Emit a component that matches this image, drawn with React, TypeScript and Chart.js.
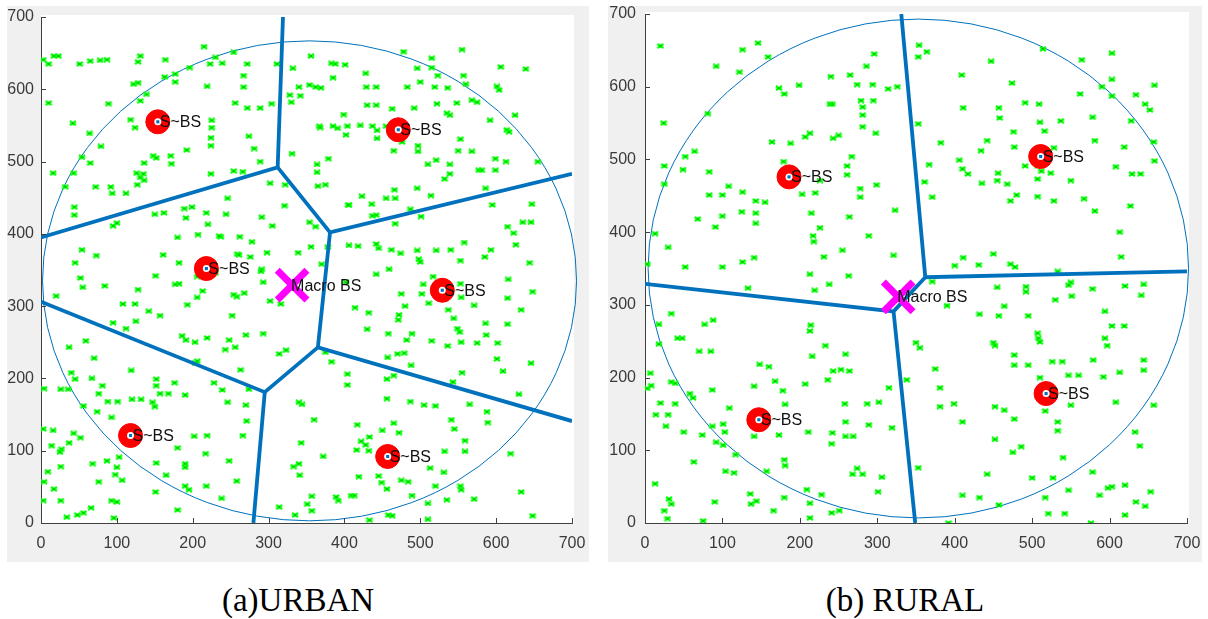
import React, { useEffect, useRef } from 'react';
import { Chart, registerables } from 'chart.js';
Chart.register(...registerables);

type Pt = [number, number];

const AXIS_TICKS = [0, 100, 200, 300, 400, 500, 600, 700];
const SMALL_LABEL = 'S~BS';
const MACRO_LABEL = 'Macro BS';

// ---------- URBAN ----------
const urbanUsers: Pt[] = [
  [215,659],[555,655],[478,652],[254,651],
  [17,646],[23,646],[131,646],[356,646],[3,641],[164,641],[230,644],[128,638],[515,643],[10,635],[51,635],[65,639],[78,640],[87,641],[223,635],[239,636],[272,635],[311,635],[332,629],[383,636],[388,635],[401,634],[606,631],[639,628],[196,630],[496,629],[515,630],
  [163,617],[177,621],[177,610],[267,619],[385,616],[428,622],[523,619],[557,619],[560,607],[267,603],[219,604],[122,607],[128,609],[354,606],[362,603],[369,602],[340,603],[429,603],[442,603],[601,604],[604,599],[483,603],[519,603],[500,610],[536,602],
  [139,593],[10,581],[89,580],[131,584],[256,581],[272,574],[289,574],[304,580],[328,592],[330,582],[342,591],[548,581],[575,582],[568,585],[522,580],[463,573],[430,578],[442,578],[492,574],[399,565],[535,567],[539,564],[592,557],[625,564],[614,544],[617,541],[118,558],[124,547],[225,557],[225,547],
  [367,549],[385,549],[404,549],[421,550],[437,549],[455,549],
  [42,553],[64,539],[79,521],[54,506],[65,498],[43,484],[16,484],[72,465],[92,465],[94,456],[112,456],[127,468],[131,478],[135,483],[126,484],[136,498],[148,508],[152,505],[171,508],[172,497],[192,516],[224,522],[224,533],[224,483],[274,535],[281,518],[289,500],[266,486],[302,470],[322,468],[331,511],[379,504],[364,496],[364,485],[375,468],[365,466],[368,547],[391,546],[402,537],[443,543],[443,532],[476,527],[465,515],[497,514],[497,522],[510,496],[521,502],[539,496],[539,483],[532,476],[550,515],[568,514],[577,488],[581,488],[599,504],[599,488],[613,500],[655,500],[586,463],[496,463],[514,453],[466,461],[467,449],[455,449],[436,441],[423,452],[406,440],[487,434],[553,531],
  [54,378],[73,370],[45,360],[52,339],[55,326],[84,328],[20,314],[108,303],[124,303],[142,293],[157,287],[95,277],[125,279],[112,269],[37,243],[59,252],[70,228],[40,208],[36,185],[26,185],[4,186],[45,199],[67,200],[81,190],[76,179],[88,168],[101,168],[74,154],[56,162],[120,171],[119,211],[132,171],[147,167],[150,161],[152,199],[152,190],[157,179],[168,179],[176,194],[190,177],[93,146],[43,124],[16,128],[3,130],[14,107],[37,111],[27,102],[25,98],[52,118],[26,78],[68,82],[87,86],[103,91],[100,77],[107,59],[98,67],[76,57],[17,47],[4,57],[3,31],[9,71],[26,31],[66,21],[56,14],[48,11],[34,8],[96,7],[93,31],[100,29],[151,43],[165,66],[152,83],[180,104],[190,82],[190,77],[190,51],[195,46],[180,18],[218,51],[217,96],[219,121],[202,120],[238,34],[258,58],[248,86],[266,121],[271,141],[270,163],[274,185],[263,212],[246,167],[239,184],[228,194],[203,221],[206,224],[191,253],[186,259],[203,250],[219,256],[248,253],[270,260],[243,240],[256,243],[252,287],[258,313],[254,316],[213,321],[206,312],[193,302],[182,331],[206,341],[237,396],[262,396],[278,389],[259,372],[276,368],[293,333],[291,351],[302,307],[316,303],[314,234],[323,239],[293,262],
  [340,167],[344,164],[343,111],[360,143],[372,92],[333,78],[340,82],[341,66],[314,22],[335,11],[351,26],[357,37],[357,17],[389,36],[392,31],[409,38],[413,38],[417,136],[433,119],[422,113],[428,108],[416,101],[432,100],[450,128],[465,138],[472,125],[419,64],[445,65],[449,56],[456,47],[475,59],[484,57],[489,38],[510,27],[458,11],[463,10],[433,4],[510,5],[520,51],[513,76],[532,99],[531,70],[535,32],[553,51],[554,46],[571,33],[545,130],[559,114],[559,99],[541,143],[565,164],[588,154],[589,139],[619,96],[633,43],[648,10],[630,178],[487,168],[505,163],[520,162],[543,195],[555,208],[601,227],[609,210],[646,221],[602,249],[587,260],[575,249],[554,250],[536,245],[515,252],[489,262],[482,253],[470,234],[479,235],[488,218],[457,229],[465,204],[456,199],[404,206],[404,191],[456,172],[383,223],[375,236],
  [406,384],[418,383],[442,386],[445,380],[462,378],[474,373],[496,377],[498,365],[500,361],[521,377],[540,378],[553,363],[558,388],[593,378],[585,368],[644,360],[626,385],[623,401],[635,416],[646,416],[615,410],[595,440],[647,441],[501,424],[467,414],[437,425],[442,426],[405,440],[442,344],[459,351],[475,317],[480,300],[504,330],[502,317],[511,304],[517,341],[553,331],[554,312],[537,295],[544,283],[549,269],[552,264],[571,301],[586,276],[615,275],[615,311],[633,295],[648,320],[616,337],[414,298],[432,291],[430,268],[458,262],[471,281],[472,288],[402,333],
  [354,416],[362,410],[378,382],[370,358],[356,382],[339,374],[298,374],[290,348],[261,371],[235,397],[207,399],[180,395],[230,346],[268,318],
  [254,487],[199,437],[218,429],[244,427],[291,423],[305,411],[321,439],[246,449],
  [44,437],[44,426],[95,411],[100,415],[150,427],[162,429],[189,435],[191,422],[220,413],[161,371],[151,342],[182,360],[177,330],[128,323],[32,465],[136,474],
];
const urbanSmallBS: Pt[] = [[154,555],[471,544],[218,352],[529,322],[118,121],[457,92]];
const urbanMacroBS: Pt = [331, 329];
const urbanEdges: Pt[][] = [
  [[319,700],[312,492],[0,395]],
  [[312,492],[381,402],[700,483]],
  [[381,402],[365,243],[700,141]],
  [[365,243],[295,181],[0,306]],
  [[295,181],[280,0]],
];
const urbanCircle = { cx: 354, cy: 335, rx: 352, ry: 332 };

// ---------- RURAL ----------
const ruralUsers: Pt[] = [
  [20,656],[126,651],[146,660],[159,641],[92,628],[122,620],[173,598],[180,590],[199,602],[240,614],[239,576],[242,576],[207,531],[213,536],[243,529],[250,533],[265,616],[274,603],[296,645],[286,628],[279,581],[295,581],[294,603],[314,597],[326,600],[281,572],[281,561],[281,545],[298,536],[267,504],[261,491],[261,479],[278,460],[278,448],[299,465],[264,421],[289,395],[323,430],[321,368],[226,471],[220,454],[203,452],[215,426],[217,395],[218,387],[226,406],[231,366],[255,375],[263,340],[238,328],[219,320],[213,342],[179,497],[188,522],[164,524],[143,426],[143,412],[155,441],[143,443],[126,455],[125,428],[108,463],[100,451],[100,422],[91,407],[100,352],[83,451],[83,483],[68,418],[64,511],[52,504],[49,486],[25,491],[25,466],[24,550],[13,398],[30,379],[52,352],[3,356],[81,563],[126,359],[141,365],[133,323],
  [354,657],[353,641],[364,648],[353,549],[361,469],[371,448],[367,493],[382,523],[406,499],[410,487],[417,480],[409,616],[411,571],[434,512],[435,467],[442,526],[447,635],[457,571],[458,557],[474,605],[476,538],[477,517],[456,481],[455,471],[468,466],[472,443],[480,451],[491,578],[491,491],[507,491],[507,473],[507,449],[509,576],[510,551],[514,652],[516,539],[512,484],[528,516],[528,443],[524,481],[537,553],[550,471],[564,637],[562,590],[567,446],[578,558],[581,526],[581,429],[590,600],[608,490],[603,646],[603,610],[603,587],[613,400],[619,517],[627,436],[629,480],[634,589],[646,576],[652,568],[657,524],[658,498],[658,602],[628,553],[640,480],[615,366],
  [18,273],[18,246],[34,288],[42,254],[48,254],[88,279],[77,273],[70,236],[85,236],[7,206],[3,185],[8,189],[20,165],[14,149],[30,149],[34,194],[39,192],[39,164],[27,133],[58,178],[62,172],[50,125],[74,121],[87,133],[87,183],[92,111],[101,136],[103,125],[101,107],[109,158],[117,94],[104,71],[115,69],[63,84],[13,54],[31,33],[34,26],[25,17],[29,6],[75,3],[90,29],[136,40],[137,26],[144,30],[166,17],[180,35],[180,87],[181,79],[157,71],[141,119],[160,215],[148,218],[141,188],[168,195],[178,182],[181,163],[173,121],[207,191],[216,229],[211,125],[209,46],[213,27],[213,7],[241,14],[228,39],[251,17],[243,209],[233,244],[214,272],[213,264],[236,197],[253,211],[259,232],[264,209],[258,164],[259,139],[259,119],[269,119],[242,124],[241,109],[268,67],[274,75],[281,67],[287,164],[289,135],[302,166],[306,63],[301,43],[315,186],[319,131],[338,197],
  [350,248],[355,241],[375,212],[381,186],[381,160],[399,164],[390,299],[371,332],[400,354],[411,365],[431,355],[432,287],[450,370],[455,324],[457,285],[464,298],[450,248],[452,244],[477,231],[477,217],[472,356],[478,352],[492,325],[492,318],[495,285],[507,261],[508,254],[510,249],[495,217],[510,200],[526,222],[547,203],[560,203],[539,222],[530,307],[550,331],[547,327],[533,346],[551,312],[578,322],[594,291],[594,254],[597,244],[579,224],[592,201],[603,271],[620,326],[619,271],[613,207],[633,125],[639,106],[644,224],[644,210],[644,328],[641,313],[608,166],[550,162],[533,139],[533,127],[540,90],[517,154],[486,105],[475,97],[464,155],[477,143],[452,115],[442,67],[452,160],[410,139],[410,38],[432,35],[457,25],[500,62],[517,35],[521,13],[527,62],[542,13],[547,45],[587,38],[598,48],[603,50],[620,52],[620,11],[634,29],[646,23],[653,43],[578,70],[657,162],[392,0],[576,0],[353,76],
];
const ruralSmallBS: Pt[] = [[186,476],[511,504],[147,142],[518,178]];
const ruralMacroBS: Pt = [327, 311];
const ruralEdges: Pt[][] = [
  [[331,700],[362,338],[700,346]],
  [[362,338],[321,291],[0,329]],
  [[321,291],[349,0]],
];
const ruralCircle = { cx: 353, cy: 350, rx: 349, ry: 343 };

const CAPTION_A = '(a)URBAN';
const CAPTION_B = '(b) RURAL';

const AXIS_FONT = "'Liberation Sans', Arial, sans-serif";

function makeUserMarker(): HTMLCanvasElement {
  const c = document.createElement('canvas');
  c.width = 8;
  c.height = 6;
  const g = c.getContext('2d')!;
  g.strokeStyle = '#00ff00';
  g.lineWidth = 2.2;
  g.beginPath();
  g.moveTo(1, 1); g.lineTo(7, 5);
  g.moveTo(1, 5); g.lineTo(7, 1);
  g.stroke();
  g.fillStyle = '#00c800';
  g.fillRect(3, 2, 2, 2);
  return c;
}

const decorPlugin = {
  id: 'decor',
  beforeDraw(chart: any) {
    const { ctx, chartArea: a } = chart;
    ctx.save();
    ctx.fillStyle = '#ffffff';
    ctx.fillRect(a.left, a.top - 2, a.right - a.left + 2, a.bottom - a.top + 2);
    ctx.restore();
  },
  beforeDatasetsDraw(chart: any, _args: any, opts: any) {
    const { ctx } = chart;
    const xs = chart.scales.x, ys = chart.scales.y;
    const c = opts.circle;
    const px = xs.getPixelForValue(c.cx);
    const py = ys.getPixelForValue(c.cy);
    const rx = Math.abs(xs.getPixelForValue(c.cx + c.rx) - px);
    const ry = Math.abs(ys.getPixelForValue(c.cy + c.ry) - py);
    ctx.save();
    ctx.strokeStyle = '#0072BD';
    ctx.lineWidth = 1;
    ctx.beginPath();
    ctx.ellipse(px, py, rx, ry, 0, 0, Math.PI * 2);
    ctx.stroke();
    ctx.restore();
  },
  afterDatasetsDraw(chart: any, _args: any, opts: any) {
    const { ctx } = chart;
    const xs = chart.scales.x, ys = chart.scales.y;
    ctx.save();
    ctx.fillStyle = '#111';
    ctx.font = `16px ${AXIS_FONT}`;
    ctx.textAlign = 'left';
    ctx.textBaseline = 'middle';
    opts.smallBS.forEach((p: Pt) => {
      ctx.fillText(SMALL_LABEL, xs.getPixelForValue(p[0]) + 2, ys.getPixelForValue(p[1]) + 1);
    });
    ctx.fillText(MACRO_LABEL, xs.getPixelForValue(opts.macro[0]) - 1, ys.getPixelForValue(opts.macro[1]) + 1);
    ctx.restore();
  },
  afterDraw(chart: any) {
    const { ctx, chartArea: a } = chart;
    const xs = chart.scales.x, ys = chart.scales.y;
    ctx.save();
    ctx.strokeStyle = '#404040';
    ctx.lineWidth = 1;
    ctx.beginPath();
    AXIS_TICKS.forEach((v) => {
      const px = Math.round(xs.getPixelForValue(v)) + 0.5;
      ctx.moveTo(px, a.bottom);
      ctx.lineTo(px, a.bottom - 5);
      const py = Math.round(ys.getPixelForValue(v)) + 0.5;
      ctx.moveTo(a.left, py);
      ctx.lineTo(a.left + 5, py);
    });
    ctx.stroke();
    ctx.restore();
  },
};

type PanelProps = {
  users: Pt[];
  smallBS: Pt[];
  macro: Pt;
  edges: Pt[][];
  circle: { cx: number; cy: number; rx: number; ry: number };
  left: number; top: number; width: number; height: number;
  areaLeft: number; areaTop: number; areaRight: number; areaBottom: number;
  yPad: number;
};

function Panel(p: PanelProps) {
  const ref = useRef<HTMLCanvasElement>(null);
  useEffect(() => {
    const canvas = ref.current!;
    const toXY = (q: Pt) => ({ x: q[0], y: q[1] });
    const datasets: any[] = [];
    datasets.push({
      label: 'users', data: p.users.map(toXY), pointStyle: makeUserMarker(),
      pointRadius: 3, showLine: false, order: 10,
    });
    p.edges.forEach((e, i) => {
      datasets.push({
        label: 'edge' + i, data: e.map(toXY), showLine: true, borderColor: '#0072BD',
        borderWidth: 3.8, pointRadius: 0, fill: false, tension: 0, order: 5,
      });
    });
    datasets.push({
      label: 'sbs', data: p.smallBS.map(toXY), pointStyle: 'circle', pointRadius: 12,
      backgroundColor: '#ff0000', borderColor: '#ff0000', borderWidth: 1, order: 3,
    });
    datasets.push({
      label: 'sbs-in', data: p.smallBS.map(toXY), pointStyle: 'circle', pointRadius: 3.5,
      backgroundColor: '#ffffff', borderWidth: 0, order: 2,
    });
    datasets.push({
      label: 'sbs-dot', data: p.smallBS.map(toXY), pointStyle: 'rect', pointRadius: 2.2,
      backgroundColor: '#0072BD', borderWidth: 0, order: 1,
    });
    datasets.push({
      label: 'macro', data: [toXY(p.macro)], pointStyle: 'crossRot', pointRadius: 21,
      borderColor: '#ff00ff', borderWidth: 7, order: 0,
    });
    const xAxisH = p.height - p.areaBottom;
    const chart = new Chart(canvas, {
      type: 'scatter',
      data: { datasets },
      options: {
        animation: false,
        responsive: false,
        devicePixelRatio: 1,
        events: [],
        layout: { autoPadding: false, padding: { left: 0, top: p.areaTop, right: p.width - p.areaRight, bottom: 0 } },
        plugins: {
          legend: { display: false },
          tooltip: { enabled: false },
          decor: { circle: p.circle, smallBS: p.smallBS, macro: p.macro },
        } as any,
        scales: {
          x: {
            type: 'linear', min: 0, max: 700, position: 'bottom',
            afterBuildTicks: (s: any) => { s.ticks = AXIS_TICKS.map((v) => ({ value: v })); },
            ticks: { font: { family: AXIS_FONT, size: 16 }, color: '#3a3a3a', padding: 11, maxRotation: 0, autoSkip: false },
            grid: { display: false, drawTicks: false },
            border: { display: true, color: '#404040', width: 1 },
            afterFit: (s: any) => { s.height = xAxisH; s.paddingLeft = 0; s.paddingRight = 0; },
          },
          y: {
            type: 'linear', min: 0, max: 700, position: 'left',
            afterBuildTicks: (s: any) => { s.ticks = AXIS_TICKS.map((v) => ({ value: v })); },
            ticks: { font: { family: AXIS_FONT, size: 16 }, color: '#3a3a3a', padding: p.yPad, autoSkip: false },
            grid: { display: false, drawTicks: false },
            border: { display: true, color: '#404040', width: 1 },
            afterFit: (s: any) => { s.width = p.areaLeft; s.paddingTop = 0; s.paddingBottom = 0; },
          },
        } as any,
      },
      plugins: [decorPlugin as any],
    });
    return () => chart.destroy();
  }, []);
  return (
    <div style={{ position: 'absolute', left: p.left, top: p.top, width: p.width, height: p.height, background: '#f0f0f0' }}>
      <canvas ref={ref} width={p.width} height={p.height} style={{ display: 'block' }} />
    </div>
  );
}

const captionStyle: React.CSSProperties = {
  position: 'absolute', top: 581, fontFamily: "'Liberation Serif', 'Times New Roman', serif",
  fontSize: 33, color: '#000', whiteSpace: 'nowrap', transform: 'translateX(-50%)', lineHeight: '38px',
};

export default function App() {
  return (
    <div style={{ position: 'absolute', left: 0, top: 0, width: 1208, height: 619, background: '#fff', overflow: 'hidden' }}>
      <Panel users={urbanUsers} smallBS={urbanSmallBS} macro={urbanMacroBS} edges={urbanEdges} circle={urbanCircle}
        left={7} top={6} width={582} height={556} areaLeft={34} areaTop={11} areaRight={565} areaBottom={517} yPad={7} />
      <Panel users={ruralUsers} smallBS={ruralSmallBS} macro={ruralMacroBS} edges={ruralEdges} circle={ruralCircle}
        left={608} top={6} width={594} height={556} areaLeft={37} areaTop={8} areaRight={579} areaBottom={517} yPad={9} />
      <div style={{ ...captionStyle, left: 298 }}>{CAPTION_A}</div>
      <div style={{ ...captionStyle, left: 905 }}>{CAPTION_B}</div>
    </div>
  );
}
